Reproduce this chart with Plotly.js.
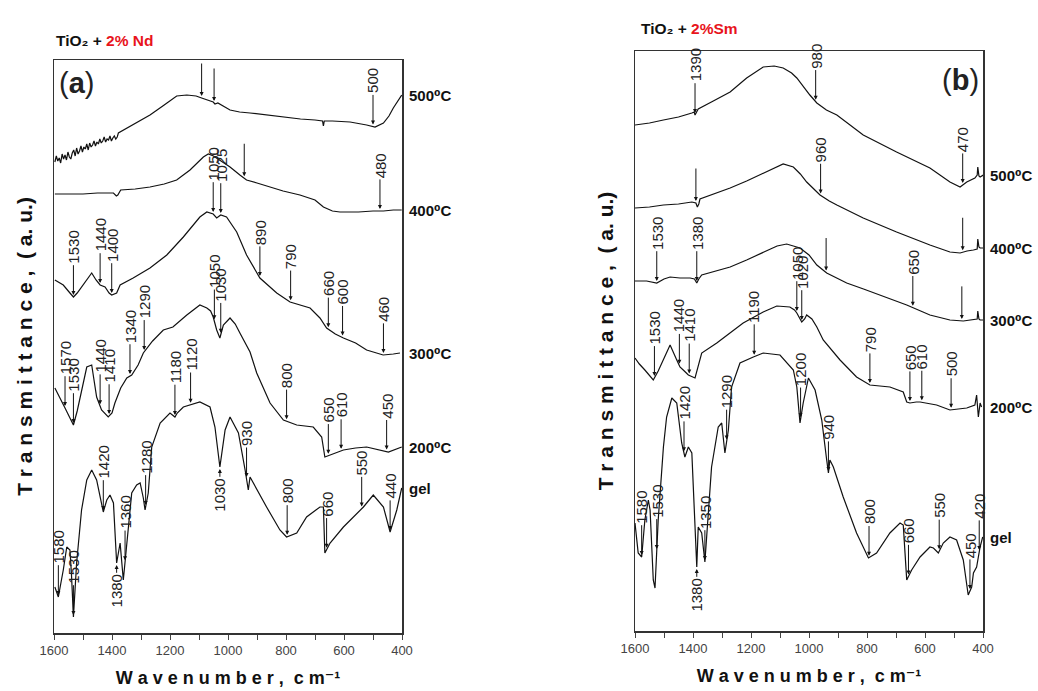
<!DOCTYPE html>
<html><head><meta charset="utf-8">
<script src="https://cdn.plot.ly/plotly-3.0.1.min.js"></script>
<style>html,body{margin:0;padding:0;background:#fff}#chart{width:1038px;height:691px}</style>
</head><body><div id="chart"></div>
<script>
// ---------- DATA (wavenumber, cm-1  /  transmittance, a.u.) ----------
// Panel (a): TiO2 + 2% Nd
const wnL500 = [1597,1592,1587,1582,1577,1572,1567,1562,1557,1552,1547,1542,1537,1532,1527,1522,1517,1512,1507,1502,1497,1492,1487,1482,1477,1472,1467,1462,1457,1452,1447,1442,1437,1432,1427,1422,1417,1412,1407,1402,1397,1392,1387,1382,1378,1330,1269,1220,1177,1142,1110,1091,1070,1051,1045,1035,993,960,924,870,809,750,700,674,671,668,640,579,522,493,464,445,430,415,401];
const tL500 = [471,477,472,475,470,479,474,478,473,481,476,474,480,483,477,485,479,482,487,481,486,484,489,483,490,486,488,492,487,491,489,494,490,492,496,491,494,493,497,492,495,497,494,496,500,508,518,528,537,538,537,535,533,531,529,530,523,521,520,518,516,514,513,512,507,512,512,511,508,506,510,517,525,532,538];
const wnL400 = [1597,1550,1500,1450,1395,1385,1380,1370,1320,1269,1220,1177,1131,1085,1068,1050,1039,1020,993,959,936,900,867,810,752,700,671,640,614,550,500,464,430,401];
const tL400 = [439,439,439,440,440,437,438,443,444,446,449,453,463,476,479,477,475,471,466,458,453,450,447,442,438,433,426,422,421,421,422,422,423,423];
const wnL300 = [1597,1568,1545,1533,1520,1499,1470,1455,1441,1424,1410,1401,1384,1372,1327,1269,1211,1154,1097,1073,1060,1051,1039,1025,1005,970,936,890,832,786,717,683,660,630,602,560,522,465,430,407];
const tL300 = [353,348,340,336,340,348,360,353,348,346,340,338,340,348,355,365,378,396,416,421,420,419,415,418,416,401,378,355,340,331,325,315,305,299,295,290,283,278,279,280];
const wnL200 = [1597,1580,1562,1545,1533,1520,1510,1487,1470,1453,1436,1413,1400,1390,1370,1349,1332,1310,1292,1260,1223,1190,1142,1097,1073,1060,1051,1039,1028,1016,993,975,959,924,901,855,809,763,706,677,666,648,602,560,522,447,401];
const tL200 = [245,236,225,215,208,222,236,266,268,236,223,216,220,230,245,255,258,268,280,292,303,306,318,328,325,322,316,303,295,308,315,309,300,281,260,230,213,208,206,196,176,178,183,185,186,181,186];
const wnLgel = [1597,1585,1575,1568,1556,1545,1540,1533,1522,1505,1487,1470,1453,1440,1430,1418,1407,1395,1384,1378,1372,1361,1344,1332,1315,1303,1292,1286,1275,1263,1234,1200,1183,1175,1154,1097,1062,1045,1028,1010,993,964,941,930,924,913,867,821,798,763,729,683,671,666,648,602,545,533,499,464,441,418,401];
const tLgel = [46,36,52,63,86,83,60,16,70,123,153,163,153,135,121,133,138,130,70,80,90,53,103,140,148,150,135,123,140,186,210,220,216,220,226,231,226,206,166,203,216,200,163,143,156,150,126,103,96,100,116,126,126,80,90,106,123,126,138,126,101,123,145];

// Panel (b): TiO2 + 2% Sm
const wnR500 = [1600,1550,1502,1450,1404,1396,1393,1388,1382,1330,1272,1215,1158,1120,1089,1060,1042,997,973,940,904,813,698,583,514,479,456,428,420,418,414,410,399];
const tR500 = [506,508,511,514,518,519,516,519,522,530,539,553,564,565,563,558,553,536,528,521,516,496,479,463,449,444,449,453,456,464,455,454,456];
const wnR400 = [1600,1550,1502,1450,1404,1390,1385,1380,1376,1330,1272,1215,1158,1120,1089,1054,1030,1008,985,962,930,904,813,698,583,514,479,455,433,420,418,414,410,399];
const tR400 = [423,424,426,427,429,428,424,427,432,437,443,450,458,463,467,464,457,449,442,436,430,426,413,399,386,379,378,380,381,382,392,384,383,383];
const wnR300 = [1600,1560,1525,1500,1479,1445,1410,1395,1387,1380,1370,1320,1272,1215,1158,1110,1077,1050,1031,1000,973,939,900,870,812,755,663,583,514,468,433,420,418,414,410,399];
const tR300 = [350,350,348,352,354,353,353,352,348,352,356,360,364,371,379,385,387,385,383,376,366,358,352,348,342,336,326,316,311,310,311,312,320,312,311,311];
const wnR200 = [1600,1585,1566,1550,1537,1520,1502,1479,1456,1445,1430,1416,1393,1382,1370,1318,1272,1227,1158,1111,1066,1050,1042,1025,1015,1008,990,973,951,920,893,836,790,721,675,663,652,630,617,560,514,456,428,422,416,410,405];
const tR200 = [273,267,261,256,251,260,271,286,271,264,260,256,253,264,278,288,298,308,319,325,324,321,318,309,312,316,312,304,291,280,271,254,246,244,239,229,228,229,229,226,221,223,226,236,214,228,224];
const wnRgel = [1600,1589,1577,1566,1554,1548,1537,1531,1520,1502,1491,1473,1456,1439,1428,1416,1404,1393,1387,1382,1370,1359,1347,1336,1313,1301,1290,1278,1267,1238,1192,1158,1100,1054,1042,1031,1020,1002,979,956,939,933,928,916,882,836,795,767,721,686,675,663,646,617,583,571,554,537,514,491,468,451,439,433,422,410,401];
const tRgel = [108,78,74,111,131,121,51,43,111,184,214,233,228,188,174,184,178,111,64,104,98,69,118,164,204,208,178,201,244,268,274,278,276,261,244,208,228,253,241,211,171,158,171,164,134,98,73,78,98,108,106,51,61,74,84,83,78,88,94,91,71,36,44,58,64,84,94];

// Band markers: arrow wavenumbers and their printed labels
const mwL500 = [1091,1048,500];            const mtL500 = ['','','500'];
const mwL400 = [944,476];                  const mtL400 = ['','480'];
const mwL300 = [1533,1441,1401,1051,1025,890,784,654,605,464];
const mtL300 = ['1530','1440','1400','1050','1025','890','790','660','600','460'];
const mwL200 = [1562,1533,1441,1410,1338,1289,1047,1025,798,654,610,453];
const mtL200 = ['1570','1530','1440','1410','1340','1290','1050','1030','800','650','610','450'];
const mwLgel = [1585,1533,1430,1355,1284,1183,1129,936,796,660,539,441];
const mtLgel = ['1580','1530','1420','1360','1280','1180','1120','930','800','660','550','440'];
const mwLgelB = [1384,1028];               const mtLgelB = ['1380','1030'];

const mwR500 = [1393,977,470];             const mtR500 = ['1390','980','470'];
const mwR400 = [1390,960,470];             const mtR400 = ['','960',''];
const mwR300 = [1525,1387,941,642,473];    const mtR300 = ['1530','1380','','650',''];
const mwR200 = [1533,1447,1413,1042,1025,790,652,611,510];
const mtR200 = ['1530','1440','1410','1050','1020','790','650','610','500'];
const mwRgel = [1577,1525,1431,1359,1284,1189,1029,933,793,657,551,445,413];
const mtRgel = ['1580','1530','1420','1350','1290','1190','1200','940','800','660','550','450','420'];
const mwRgelB = [1387];                    const mtRgelB = ['1380'];

const tempLabels = ['500⁰C','400⁰C','300⁰C','200⁰C','gel'];

// ---------- DRAWING ----------
const W = 1038, H = 691;
const FONT = 'Liberation Sans, Arial, DejaVu Sans, sans-serif';
const INK = '#111';

function interp(xs, ys, x){
  for (let i=0;i<xs.length-1;i++){
    const a=xs[i], b=xs[i+1];
    if ((x<=a && x>=b) || (x>=a && x<=b)){
      const t = (b===a)?0:(x-a)/(b-a);
      return ys[i] + t*(ys[i+1]-ys[i]);
    }
  }
  return ys[ys.length-1];
}

const panels = [
  {x:'x', y:'y', curves:[
    {wn:wnL500,t:tL500,marks:[[mwL500,mtL500,false]]},
    {wn:wnL400,t:tL400,marks:[[mwL400,mtL400,false]]},
    {wn:wnL300,t:tL300,marks:[[mwL300,mtL300,false]]},
    {wn:wnL200,t:tL200,marks:[[mwL200,mtL200,false]]},
    {wn:wnLgel,t:tLgel,marks:[[mwLgel,mtLgel,false],[mwLgelB,mtLgelB,true]]}
  ]},
  {x:'x2', y:'y2', curves:[
    {wn:wnR500,t:tR500,marks:[[mwR500,mtR500,false]]},
    {wn:wnR400,t:tR400,marks:[[mwR400,mtR400,false]]},
    {wn:wnR300,t:tR300,marks:[[mwR300,mtR300,false]]},
    {wn:wnR200,t:tR200,marks:[[mwR200,mtR200,false]]},
    {wn:wnRgel,t:tRgel,marks:[[mwRgel,mtRgel,false],[mwRgelB,mtRgelB,true]]}
  ]}
];

const ARROW = 30;
const traces = [];
const ann = [];
panels.forEach(p=>{
  p.curves.forEach((c,ci)=>{
    traces.push({x:c.wn, y:c.t, xaxis:p.x, yaxis:p.y, mode:'lines',
      line:{color:INK, width:1.2}, hoverinfo:'skip'});
    ann.push({xref:p.x, yref:p.y, x:400, y:c.t[c.t.length-1], xanchor:'left', yanchor:'middle',
      xshift:5, showarrow:false, text:'<b>'+tempLabels[ci]+'</b>',
      font:{family:FONT, size:15, color:INK}});
    c.marks.forEach(([mw, mt, below])=>{
      mw.forEach((w,i)=>{
        const txt = mt[i];
        const yv = interp(c.wn, c.t, w);
        const base = {xref:p.x, yref:p.y, x:w, y: below ? yv-2 : yv+2,
          showarrow:true, arrowhead:2, arrowsize:0.8, arrowwidth:1, arrowcolor:INK,
          standoff:0, ax:0};
        if (txt) {
          const len = txt.length*8.4+2;
          ann.push(Object.assign(base, {text:txt, textangle:-90,
            ay: below ? (len/2+8) : -(ARROW+len/2),
            font:{family:FONT, size:15, color:'#222'}}));
        } else {
          ann.push(Object.assign(base, {text:'', ay:-(ARROW+4)}));
        }
      });
    });
  });
});

ann.push({xref:'paper', yref:'paper', x:57/W, y:1-83/H, xanchor:'left', yanchor:'middle', showarrow:false,
  text:'(<b>a</b>)', font:{family:FONT, size:29, color:'#222'}});
ann.push({xref:'paper', yref:'paper', x:981/W, y:1-80/H, xanchor:'right', yanchor:'middle', showarrow:false,
  text:'(<b>b</b>)', font:{family:FONT, size:29, color:'#222'}});
ann.push({xref:'paper', yref:'paper', x:54/W, y:1-40/H, xanchor:'left', yanchor:'middle', showarrow:false,
  text:'<b>TiO₂ + <span style="color:#e8141c">2% Nd</span></b>', font:{family:FONT, size:15.5, color:INK}});
ann.push({xref:'paper', yref:'paper', x:639/W, y:1-28/H, xanchor:'left', yanchor:'middle', showarrow:false,
  text:'<b>TiO₂ + <span style="color:#e8141c">2%Sm</span></b>', font:{family:FONT, size:15.5, color:INK}});

function xax(dom){
  return {domain:dom, range:[1600,400], tickmode:'linear', tick0:400, dtick:200,
    ticks:'outside', ticklen:5, tickwidth:1, tickcolor:'#444',
    minor:{tick0:400, dtick:100, ticks:'outside', ticklen:5, tickwidth:1, tickcolor:'#444'},
    showline:true, linecolor:'#333', linewidth:1.5, mirror:true, showgrid:false, zeroline:false,
    tickfont:{family:FONT, size:13, color:'#444'},
    title:{text:'<b>W a v e n u m b e r ,  c m⁻¹</b>', font:{family:FONT, size:18, color:INK}, standoff:14}};
}
function yax(dom, top){
  return {domain:dom, range:[0,top], showline:true, linecolor:'#333', linewidth:1.5, mirror:true,
    showgrid:false, zeroline:false, showticklabels:false, ticks:'',
    title:{text:'<b>T r a n s m i t t a n c e ,  ( a. u.)</b>', font:{family:FONT, size:21, color:INK}, standoff:14}};
}

const layout = {
  width:W, height:H, margin:{l:0,r:0,t:0,b:0}, paper_bgcolor:'#fff', plot_bgcolor:'#fff',
  showlegend:false,
  xaxis: Object.assign(xax([54/W, 402/W]), {anchor:'y'}),
  yaxis: Object.assign(yax([1-633/H, 1-60/H], 573), {anchor:'x'}),
  xaxis2: Object.assign(xax([635/W, 983/W]), {anchor:'y2'}),
  yaxis2: Object.assign(yax([1-631/H, 1-51/H], 580), {anchor:'x2'}),
  annotations: ann
};

Plotly.newPlot('chart', traces, layout, {staticPlot:true, displayModeBar:false});
</script></body></html>
